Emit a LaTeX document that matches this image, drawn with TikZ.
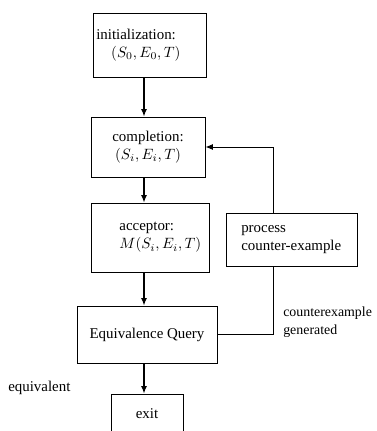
\documentclass[tikz,border=0pt]{standalone}
\usepackage{amsmath}
\usepackage{fontspec}
\setmainfont{Liberation Serif}
\usetikzlibrary{positioning,arrows.meta}

\tikzset{
  box/.style={draw, semithick, inner sep=2pt},
  flow/.style={-{Latex[length=5pt,width=4pt]}, thick},
  back/.style={-{Latex[length=5pt,width=4pt]}, semithick},
}

\begin{document}
\begin{tikzpicture}[x=0.67pt, y=-0.67pt]
  \useasboundingbox (0,0) rectangle (376,431);

  % Nodes
  \node (init) [box, align=left, text width=72pt, minimum height=42.9pt] at (150,45)
    {initialization:\\\hspace*{10pt}$(S_0, E_0, T)$};
  \node (comp) [box, align=center, minimum width=76.4pt, minimum height=40.2pt] at (148,147)
    {completion:\\$(S_i, E_i, T)$};
  \node (acc) [box, align=left, text width=75pt, minimum height=46.2pt] at (150,237.5)
    {\hspace*{17pt}acceptor:\\\hspace*{17pt}$M(S_i, E_i, T)$};
  \node (proc) [box, align=left, text width=84pt, minimum height=35.5pt] at (292,239.5)
    {\hspace*{8pt}process\\\hspace*{8pt}counter-example};
  \node (eq) [box, minimum width=93.8pt, minimum height=38.2pt] at (147,334.5)
    {Equivalence Query};
  \node (exit) [box, minimum width=48.2pt, minimum height=26.8pt] at (147,414) {exit};

  \node (cex) [anchor=north west, align=left, inner sep=0pt, font=\fontsize{9.3}{11.5}\selectfont] at (283,307)
    {counterexample\\generated};
  \node (equiv) [anchor=west, inner sep=0pt] at (8,388) {equivalent};

  \coordinate (spine) at (144,0);
  \coordinate (loop) at (273,0);

  % Arrows
  \draw[flow] (init.south -| spine) -- (comp.north -| spine);
  \draw[flow] (comp.south -| spine) -- (acc.north -| spine);
  \draw[flow] (acc.south -| spine) -- (eq.north -| spine);
  \draw[flow] (eq.south -| spine) -- (exit.north -| spine);
  \draw[semithick] (eq.east) -- (eq.east -| loop) -- (proc.south -| loop);
  \draw[back] (proc.north -| loop) |- (comp.east);
\end{tikzpicture}
\end{document}
